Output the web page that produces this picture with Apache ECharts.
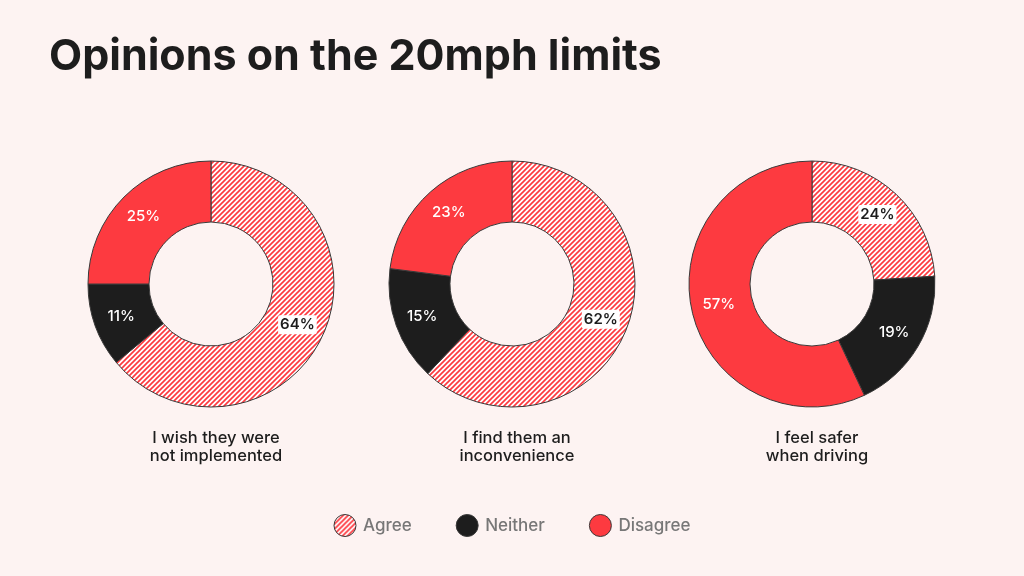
<!DOCTYPE html>
<html>
<head>
<meta charset="utf-8">
<script src="https://cdn.jsdelivr.net/npm/echarts@6/dist/echarts.min.js"></script>
<style>
  html, body { margin: 0; padding: 0; background: #fdf3f2; }
  #chart { width: 1024px; height: 576px; }
</style>
</head>
<body>
<div id="chart"></div>
<script>
const categories = ['Agree', 'Neither', 'Disagree']
const questions = ['I wish they were\nnot implemented', 'I find them an\ninconvenience', 'I feel safer\nwhen driving']
const agree = [64, 62, 24]
const neither = [11, 15, 19]
const disagree = [25, 23, 57]

const RED = '#fd3a40'
const DARK = '#1d1d1d'
const centersX = [211, 512, 812]

// diagonal hatching for "Agree"
function makeHatch() {
  const p = 5
  const c = document.createElement('canvas')
  c.width = p; c.height = p
  const ctx = c.getContext('2d')
  ctx.fillStyle = '#ffffff'
  ctx.fillRect(0, 0, p, p)
  ctx.strokeStyle = RED
  ctx.lineWidth = 1.7
  for (const k of [0, p, 2 * p]) {
    ctx.beginPath()
    ctx.moveTo(k + 1, -1)
    ctx.lineTo(-1, k + 1)
    ctx.stroke()
  }
  return c
}
const hatch = { image: makeHatch(), repeat: 'repeat' }
const colors = [hatch, DARK, RED]

const chart = echarts.init(document.getElementById('chart'))

const series = questions.map((q, i) => {
  const values = [agree[i], neither[i], disagree[i]]
  return {
    type: 'pie',
    radius: [62, 123],
    center: [centersX[i], 284],
    startAngle: 90,
    clockwise: true,
    silent: true,
    itemStyle: { borderColor: '#3a3a3a', borderWidth: 1 },
    label: {
      position: 'inside',
      formatter: '{c}%',
      fontFamily: 'Inter',
      fontSize: 15,
      fontWeight: 500,
      color: '#ffffff'
    },
    labelLine: { show: false },
    data: categories.map((name, j) => ({
      name,
      value: values[j],
      itemStyle: { color: colors[j] },
      label: j === 0
        ? { color: '#1d1d1d', fontWeight: 600, backgroundColor: '#ffffff', padding: [2, 2], borderRadius: 2 }
        : {}
    }))
  }
})

chart.setOption({
  backgroundColor: '#fdf3f2',
  animation: false,
  title: [
    {
      text: 'Opinions on the 20mph limits',
      left: 44,
      top: 31,
      textStyle: { fontFamily: 'Inter', fontSize: 43, fontWeight: 700, color: '#1d1d1d' }
    },
    ...questions.map((q, i) => ({
      text: q,
      left: centersX[i],
      top: 424,
      textAlign: 'center',
      textStyle: { fontFamily: 'Inter', fontSize: 16.5, fontWeight: 500, lineHeight: 18, color: '#1d1d1d' }
    }))
  ],
  legend: {
    data: categories,
    left: 'center',
    top: 509,
    icon: 'circle',
    itemWidth: 22,
    itemHeight: 22,
    itemGap: 44,
    selectedMode: false,
    itemStyle: { borderColor: '#3a3a3a', borderWidth: 1 },
    textStyle: { fontFamily: 'Inter', fontSize: 17, fontWeight: 500, color: '#777777', padding: [0, 0, 0, 2] }
  },
  series
})

window.addEventListener('resize', () => chart.resize())
</script>
</body>
</html>
